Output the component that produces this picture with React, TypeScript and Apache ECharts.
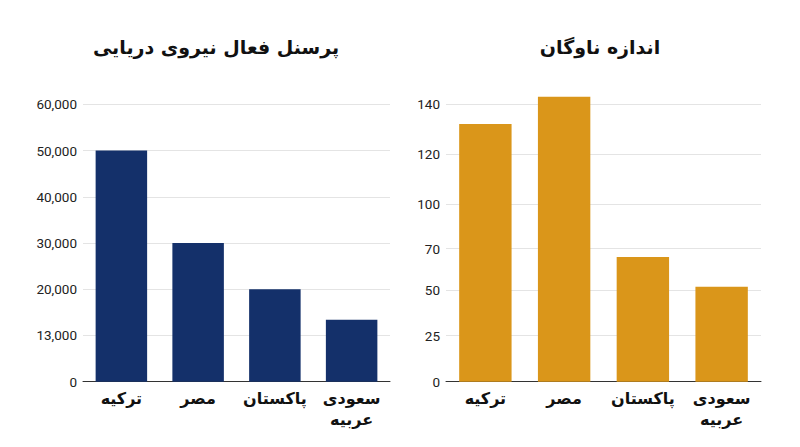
import { useEffect, useRef } from "react"
import * as echarts from "echarts"

const countries = ["ترکیه", "مصر", "پاکستان", "سعودی\nعربیه"]

const personnelTitle = "پرسنل فعال نیروی دریایی"
const personnelValues = [50000, 30000, 20000, 13400]
const personnelTickLabels = ["0", "13,000", "20,000", "30,000", "40,000", "50,000", "60,000"]

const fleetTitle = "اندازه ناوگان"
const fleetValues = [130, 143.8, 62.9, 47.9]
const fleetTickValues = [0, 23.2, 46.3, 67.1, 89.7, 114.8, 140]
const fleetTickLabels = ["0", "25", "50", "70", "100", "120", "140"]

const NAVY = "#14306a"
const GOLD = "#da961a"
const LABEL_FONT = "Roboto, 'Noto Sans', sans-serif"
const FA_FONT = "'DejaVu Sans', 'Noto Sans', sans-serif"

export default function App() {
  const chartRef = useRef<HTMLDivElement>(null)

  useEffect(() => {
    if (!chartRef.current) return
    document.body.style.margin = "0"
    const chart = echarts.init(chartRef.current, null, { renderer: "svg" })

    const xAxisBase = {
      type: "category",
      data: countries,
      axisLine: { lineStyle: { color: "#333", width: 1 } },
      axisTick: { show: false },
      axisLabel: {
        margin: 6,
        fontSize: 16,
        fontWeight: "bold",
        color: "#111",
        fontFamily: FA_FONT,
        lineHeight: 21,
        interval: 0
      }
    }

    const yLabel = { fontSize: 13.5, color: "#222", fontFamily: LABEL_FONT, margin: 6 }
    const split = { show: true, lineStyle: { color: "#e4e4e4", width: 1 } }
    const titleStyle = { fontSize: 19, fontWeight: "bold", color: "#111", fontFamily: FA_FONT }

    const option = {
      animation: false,
      title: [
        { text: personnelTitle, left: 211, top: 32, textAlign: "center", textStyle: titleStyle },
        { text: fleetTitle, left: 595, top: 32, textAlign: "center", textStyle: titleStyle }
      ],
      grid: [
        { left: 83, top: 104.3, width: 307, height: 277.4 },
        { left: 446, top: 104.3, width: 315, height: 277.4 }
      ],
      xAxis: [
        { ...xAxisBase, gridIndex: 0 },
        { ...xAxisBase, gridIndex: 1 }
      ],
      yAxis: [
        {
          type: "value",
          gridIndex: 0,
          min: 0,
          max: 60000,
          interval: 10000,
          axisLine: { show: false },
          axisTick: { show: false },
          splitLine: split,
          axisLabel: {
            ...yLabel,
            formatter: (v: number) => personnelTickLabels[Math.round(v / 10000)]
          }
        },
        {
          type: "value",
          gridIndex: 1,
          min: 0,
          max: 140,
          axisLine: { show: false },
          axisTick: { show: false, customValues: fleetTickValues },
          splitLine: split,
          axisLabel: {
            ...yLabel,
            customValues: fleetTickValues,
            formatter: (v: number) => {
              const i = fleetTickValues.findIndex((t) => Math.abs(t - v) < 0.01)
              return i >= 0 ? fleetTickLabels[i] : ""
            }
          }
        }
      ],
      series: [
        {
          type: "bar",
          xAxisIndex: 0,
          yAxisIndex: 0,
          data: personnelValues,
          barWidth: 51.5,
          itemStyle: { color: NAVY }
        },
        {
          type: "bar",
          xAxisIndex: 1,
          yAxisIndex: 1,
          data: fleetValues,
          barWidth: 52.4,
          clip: false,
          itemStyle: { color: GOLD }
        }
      ]
    }

    chart.setOption(option)

    return () => {
      chart.dispose()
    }
  }, [])

  return <div ref={chartRef} style={{ width: 800, height: 447, background: "#fff" }} />
}
